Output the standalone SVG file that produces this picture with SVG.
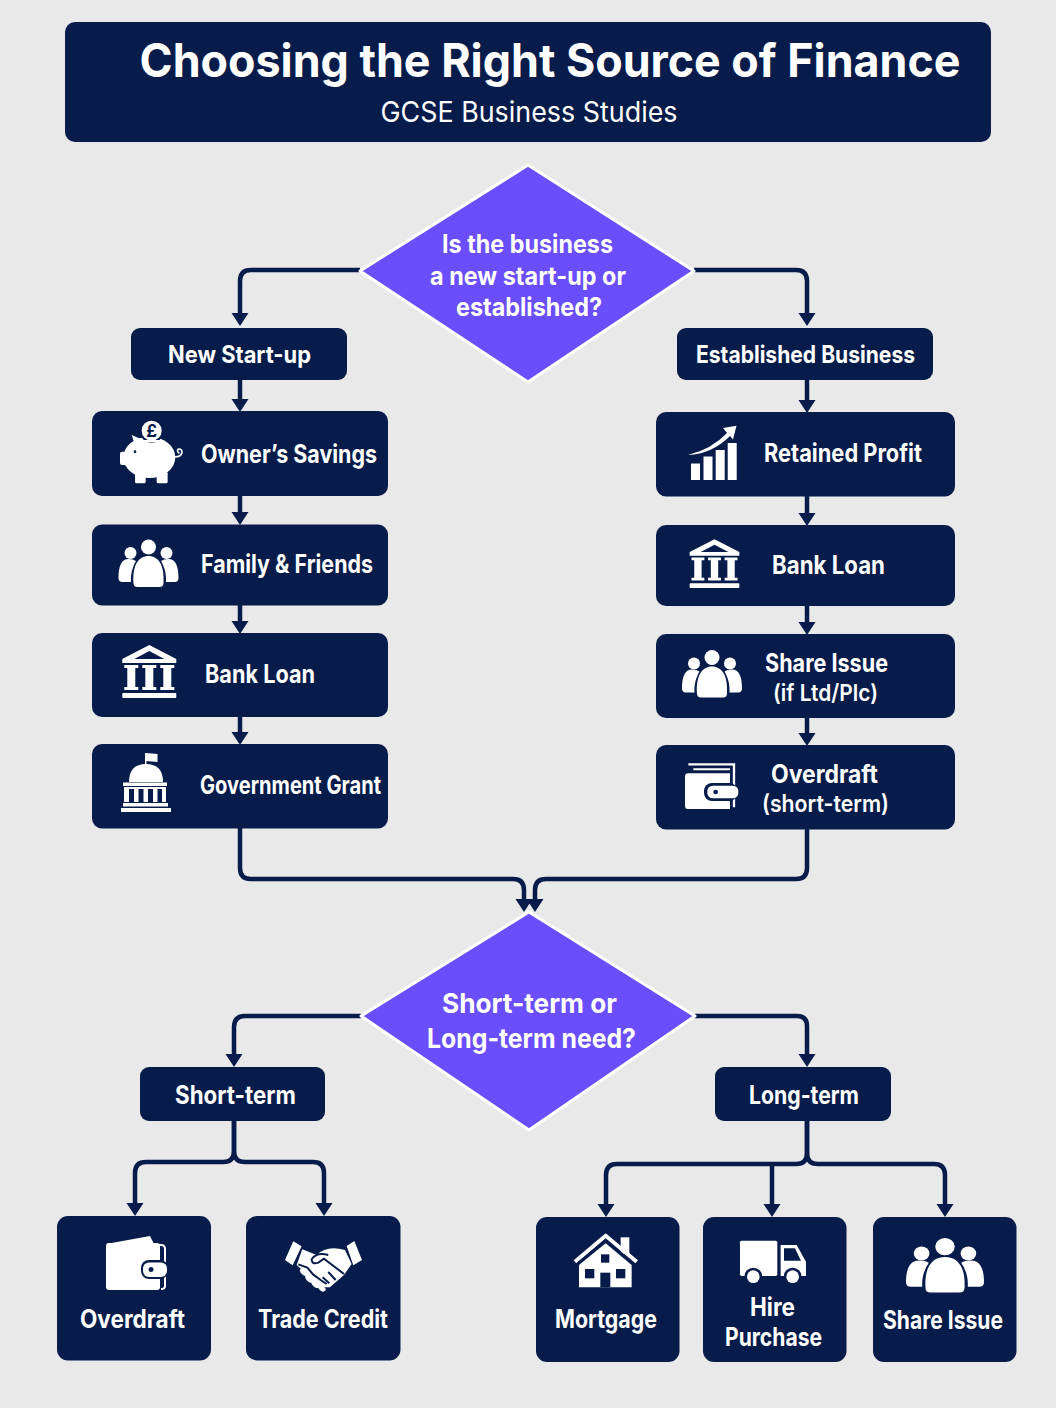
<svg xmlns="http://www.w3.org/2000/svg" xmlns:xlink="http://www.w3.org/1999/xlink" width="1056" height="1408" viewBox="0 0 1056 1408">
<style>
.n{fill:#071C4A}
.d{fill:#6B4EFB;stroke:#fff;stroke-width:3;stroke-linejoin:round}
.t{font-family:Inter,"Liberation Sans",sans-serif;font-weight:700;fill:#fff;text-anchor:middle;font-size:24px}
.c{fill:none;stroke:#071C4A;stroke-width:4.500;marker-end:url(#a)}
.w{fill:#fff}
.k{fill:#071C4A}
</style>
<defs>
<marker id="a" markerUnits="userSpaceOnUse" markerWidth="14" markerHeight="18" viewBox="0 0 14 18" refX="2" refY="9" orient="auto"><path d="M0 .500L13 9L0 17.500Z" fill="#071C4A"/></marker>
<g id="people" class="w">
<circle cx="0" cy="-16" r="7.500"/><circle cx="-18" cy="-10" r="6"/><circle cx="18" cy="-10" r="6"/>
<path d="M-15 20C-16 2-10-7 0-7C10-7 16 2 15 20Q15 24 11 24H-11Q-15 24-15 20Z"/>
<path d="M-17.500 19H-26Q-30 19-30 15C-30 3-27-4-20-4Q-15-4-12.500-2C-16 4-18 11-17.500 19Z"/>
<path d="M17.500 19H26Q30 19 30 15C30 3 27-4 20-4Q15-4 12.500-2C16 4 18 11 17.500 19Z"/>
</g>
<g id="bank" class="w">
<path fill-rule="evenodd" d="M0-27L27-13V-9H-27V-13ZM0-21L-15-13H15Z"/>
<path d="M-25-7H-11V-4H-14V15H-11V18H-25V15H-22V-4H-25ZM-7-7H7V-4H4V15H7V18H-7V15H-4V-4H-7ZM11-7H25V-4H22V15H25V18H11V15H14V-4H11Z"/>
<rect x="-27" y="21" width="54" height="5" rx="1"/>
</g>
<g id="wallet">
<path class="w" d="M0 8L44 0L48 8Z"/>
<rect class="w" x="0" y="7" width="54" height="47" rx="3"/>
<path d="M50 9H55Q59 9 59 13V50Q59 53 55 53" fill="none" stroke="#fff" stroke-width="2"/>
<rect class="k" x="35" y="24" width="27" height="19" rx="8"/>
<rect class="w" x="37" y="26.500" width="24" height="14.500" rx="6"/>
<circle class="k" cx="45" cy="33.500" r="2.500"/>
</g>
</defs>
<rect width="1056" height="1408" fill="#E9E9E9"/>
<g id="connectors">
<path class="c" d="M360 270H251Q240 270 240 281V315"/>
<path class="c" d="M694 270H796Q807 270 807 281V315"/>
<path class="c" d="M240 380V401"/><path class="c" d="M240 496V514"/><path class="c" d="M240 605V623"/><path class="c" d="M240 716V734"/>
<path class="c" d="M807 380V402"/><path class="c" d="M807 496V515"/><path class="c" d="M807 606V624"/><path class="c" d="M807 717V735"/>
<path class="c" d="M240 828V868Q240 879 251 879H513Q524 879 524 890V901"/>
<path class="c" d="M807 829V868Q807 879 796 879H546Q535 879 535 890V901"/>
<path class="c" d="M361 1016H245Q234 1016 234 1027V1056"/>
<path class="c" d="M695 1016H797Q807 1016 807 1026V1056"/>
<path class="c" d="M234 1121V1151Q234 1162 223 1162H146Q135 1162 135 1173V1205"/>
<path class="c" d="M234 1121V1151Q234 1162 245 1162H313Q324 1162 324 1173V1205"/>
<path class="c" d="M807 1121V1153Q807 1164 796 1164H617Q606 1164 606 1175V1206"/>
<path class="c" d="M772 1164V1206"/>
<path class="c" d="M807 1121V1153Q807 1164 818 1164H934Q945 1164 945 1175V1206"/>
</g>
<g id="title"><rect class="n" x="65" y="22" width="926" height="120" rx="10"/>
<text class="t" x="550" y="77" style="font-size:46px;font-weight:700" textLength="821" lengthAdjust="spacingAndGlyphs">Choosing the Right Source of Finance</text>
<text class="t" x="529" y="122" style="font-size:28px;font-weight:400" textLength="297" lengthAdjust="spacingAndGlyphs">GCSE Business Studies</text></g>
<g id="q1"><polygon class="d" points="528,165 694,271 528,382 360,271"/>
<text class="t" x="527.500" y="253" style="font-size:25px" textLength="171" lengthAdjust="spacingAndGlyphs">Is the business</text>
<text class="t" x="528" y="285" style="font-size:25px" textLength="196" lengthAdjust="spacingAndGlyphs">a new start-up or</text>
<text class="t" x="529" y="316" style="font-size:25px" textLength="146" lengthAdjust="spacingAndGlyphs">established?</text></g>
<g id="new"><rect class="n" x="131" y="328" width="216" height="52" rx="9"/><text class="t" x="239.500" y="363" textLength="143" lengthAdjust="spacingAndGlyphs">New Start-up</text></g>
<g id="est"><rect class="n" x="677" y="328" width="256" height="52" rx="9"/><text class="t" x="805.500" y="363" textLength="219" lengthAdjust="spacingAndGlyphs">Established Business</text></g>
<g id="savings"><rect class="n" x="92" y="411" width="296" height="85" rx="10"/>
<g transform="translate(90 400) scale(.3333)">
<ellipse class="w" cx="178" cy="172" rx="78" ry="62"/>
<rect class="w" x="90" y="155" width="40" height="40" rx="6"/>
<path class="w" d="M125 105L165 122L140 150Z"/>
<rect class="w" x="135" y="215" width="32" height="35" rx="5"/><rect class="w" x="200" y="215" width="33" height="35" rx="5"/>
<path d="M252 170Q272 172 276 158Q276 146 266 147Q258 152 268 160" fill="none" stroke="#fff" stroke-width="5"/>
<circle class="k" cx="135" cy="155" r="4"/>
<circle class="k" cx="185" cy="92" r="36"/><circle class="w" cx="185" cy="92" r="30"/>
<rect class="w" x="160" y="120" width="50" height="7" rx="3"/>
</g>
<text x="151.800" y="437" style="font-family:Inter,'Liberation Sans',sans-serif;font-size:17px;font-weight:700;fill:#071C4A;text-anchor:middle">£</text>
<text class="t" x="289" y="463" style="font-size:25px" textLength="176" lengthAdjust="spacingAndGlyphs">Owner’s Savings</text></g>
<g id="family"><rect class="n" x="92" y="524.500" width="296" height="81" rx="10"/><use href="#people" x="148.500" y="563"/>
<text class="t" x="287" y="573" style="font-size:25px" textLength="172" lengthAdjust="spacingAndGlyphs">Family &amp; Friends</text></g>
<g id="bankL"><rect class="n" x="92" y="633" width="296" height="84" rx="10"/><use href="#bank" x="149.300" y="672"/>
<text class="t" x="260" y="683" style="font-size:25px" textLength="110" lengthAdjust="spacingAndGlyphs">Bank Loan</text></g>
<g id="grant"><rect class="n" x="92" y="744" width="296" height="84.500" rx="10"/>
<g class="w">
<rect x="145" y="753" width="1.500" height="11"/><path d="M146 753L157.500 754V762L146 761Z"/>
<path d="M129 782Q129 764 146 764Q163 764 163 782Z"/>
<rect x="123" y="782.500" width="44" height="3.500"/>
<path d="M124 787H166V802H162V789H157.500V802H153V789H148V802H143.500V789H138.500V802H134V789H129V802H124Z"/>
<rect x="123" y="803" width="45" height="3.500"/><rect x="121" y="808" width="50" height="4"/>
</g>
<text class="t" x="290.500" y="794" style="font-size:25px" textLength="181" lengthAdjust="spacingAndGlyphs">Government Grant</text></g>
<g id="profit"><rect class="n" x="656" y="412" width="299" height="84.500" rx="10"/>
<g class="w"><rect x="691" y="463.500" width="9" height="16.500"/><rect x="703.500" y="456.500" width="9" height="23.500"/><rect x="715.700" y="450" width="9" height="30"/><rect x="727.700" y="443" width="9" height="37"/>
<path d="M688 455Q712 449 727 433L723 428L736.500 425.700L733 439.500L730 436Q712 454 688 455Z"/></g>
<text class="t" x="843" y="462" style="font-size:25px" textLength="158" lengthAdjust="spacingAndGlyphs">Retained Profit</text></g>
<g id="bankR"><rect class="n" x="656" y="525" width="299" height="81" rx="10"/><use href="#bank" transform="translate(714.500 564) scale(.92)"/>
<text class="t" x="828.500" y="574" style="font-size:25px" textLength="113" lengthAdjust="spacingAndGlyphs">Bank Loan</text></g>
<g id="shareR"><rect class="n" x="656" y="634" width="299" height="84" rx="10"/><use href="#people" x="712" y="673.500"/>
<text class="t" x="826.500" y="672" style="font-size:25px" textLength="123" lengthAdjust="spacingAndGlyphs">Share Issue</text>
<text class="t" x="825.500" y="701" style="font-size:23px;font-weight:600" textLength="105" lengthAdjust="spacingAndGlyphs">(if Ltd/Plc)</text></g>
<g id="overR"><rect class="n" x="656" y="745" width="299" height="84.500" rx="10"/>
<g transform="translate(650 620) scale(.3333)">
<path d="M115 433H252V562" fill="none" stroke="#fff" stroke-width="7"/>
<path d="M130 448H240" fill="none" stroke="#fff" stroke-width="6"/>
<path class="w" d="M115 460H240V567H115Q105 567 105 557V470Q105 460 115 460Z"/>
<rect class="k" x="162" y="489" width="100" height="54" rx="24"/>
<rect class="w" x="172" y="497" width="93" height="38" rx="16"/>
<circle class="k" cx="197" cy="516" r="7"/>
</g>
<text class="t" x="824.500" y="783" style="font-size:25px" textLength="107" lengthAdjust="spacingAndGlyphs">Overdraft</text>
<text class="t" x="825.500" y="812" style="font-size:24px;font-weight:600" textLength="127" lengthAdjust="spacingAndGlyphs">(short-term)</text></g>
<g id="q2"><polygon class="d" points="529,912 695,1016 529,1130 361,1016"/>
<text class="t" x="529.500" y="1013" style="font-size:27px" textLength="175" lengthAdjust="spacingAndGlyphs">Short-term or</text>
<text class="t" x="531.500" y="1048" style="font-size:27px" textLength="209" lengthAdjust="spacingAndGlyphs">Long-term need?</text></g>
<g id="short"><rect class="n" x="140" y="1067" width="185" height="54" rx="9"/><text class="t" x="235.500" y="1104" style="font-size:25px" textLength="121" lengthAdjust="spacingAndGlyphs">Short-term</text></g>
<g id="long"><rect class="n" x="715" y="1067" width="176" height="54" rx="9"/><text class="t" x="804" y="1104" style="font-size:25px" textLength="110" lengthAdjust="spacingAndGlyphs">Long-term</text></g>
<g id="over"><rect class="n" x="57" y="1216" width="154" height="144.500" rx="11"/><use href="#wallet" x="106" y="1236"/>
<text class="t" x="132.500" y="1328" style="font-size:25px" textLength="105" lengthAdjust="spacingAndGlyphs">Overdraft</text></g>
<g id="trade"><rect class="n" x="246" y="1216" width="154.500" height="144.500" rx="11"/>
<g transform="translate(50 1200) scale(.3333)">
<path class="w" d="M730 124L755 139L728 196L705 180ZM890 138L913 123L936 180L910 196Z"/>
<path class="w" d="M757 148L800 165Q830 135 885 150L905 192L882 225L840 262L815 262L740 195Z"/>
<g class="w"><ellipse cx="762" cy="216" rx="14" ry="9" transform="rotate(45 762 216)"/><ellipse cx="778" cy="236" rx="15" ry="9" transform="rotate(45 778 236)"/><ellipse cx="796" cy="252" rx="15" ry="9" transform="rotate(45 796 252)"/><ellipse cx="816" cy="265" rx="12" ry="8" transform="rotate(35 816 265)"/></g>
<path d="M745 193L772 203L790 224L812 240L830 252M835 165Q800 155 785 178Q785 195 805 188L822 176L882 222M835 216L857 240M818 232L838 250" fill="none" stroke="#071C4A" stroke-width="6"/>
</g>
<text class="t" x="323" y="1328" style="font-size:25px" textLength="130" lengthAdjust="spacingAndGlyphs">Trade Credit</text></g>
<g id="mortgage"><rect class="n" x="536" y="1217" width="143.500" height="145" rx="11"/>
<g transform="translate(530 1200) scale(.3333)">
<rect class="w" x="272" y="112" width="26" height="50"/>
<path d="M135 185L227 107L320 185" fill="none" stroke="#fff" stroke-width="12" stroke-linejoin="round"/>
<path d="M142 191L227 120L312 191" fill="none" stroke="#071C4A" stroke-width="6"/>
<path class="w" d="M147 195L227 130L305 195V262H147Z"/>
<rect class="k" x="213" y="163" width="25" height="25"/><rect class="k" x="165" y="207" width="28" height="28"/><rect class="k" x="258" y="207" width="28" height="28"/><rect class="k" x="211" y="218" width="30" height="44"/>
</g>
<text class="t" x="606" y="1328" style="font-size:25px" textLength="102" lengthAdjust="spacingAndGlyphs">Mortgage</text></g>
<g id="hire"><rect class="n" x="703" y="1217" width="143.500" height="145" rx="11"/>
<g transform="translate(530 1200) scale(.3333)">
<rect class="w" x="630" y="122" width="112" height="106" rx="5"/>
<path class="w" d="M752 135H800L828 185V228H752Z"/>
<path class="k" d="M762 145H795L813 182H762Z"/>
<circle class="k" cx="670" cy="230" r="27"/><circle class="k" cx="788" cy="230" r="27"/>
<circle class="w" cx="670" cy="230" r="19"/><circle class="w" cx="788" cy="230" r="19"/>
</g>
<text class="t" x="772.500" y="1316" style="font-size:25px" textLength="45" lengthAdjust="spacingAndGlyphs">Hire</text>
<text class="t" x="773.500" y="1346" style="font-size:25px" textLength="97" lengthAdjust="spacingAndGlyphs">Purchase</text></g>
<g id="share"><rect class="n" x="873" y="1217" width="143.500" height="145" rx="11"/><use href="#people" transform="translate(945 1265) scale(1.300 1.150)"/>
<text class="t" x="943" y="1329" style="font-size:25px" textLength="120" lengthAdjust="spacingAndGlyphs">Share Issue</text></g>
</svg>
